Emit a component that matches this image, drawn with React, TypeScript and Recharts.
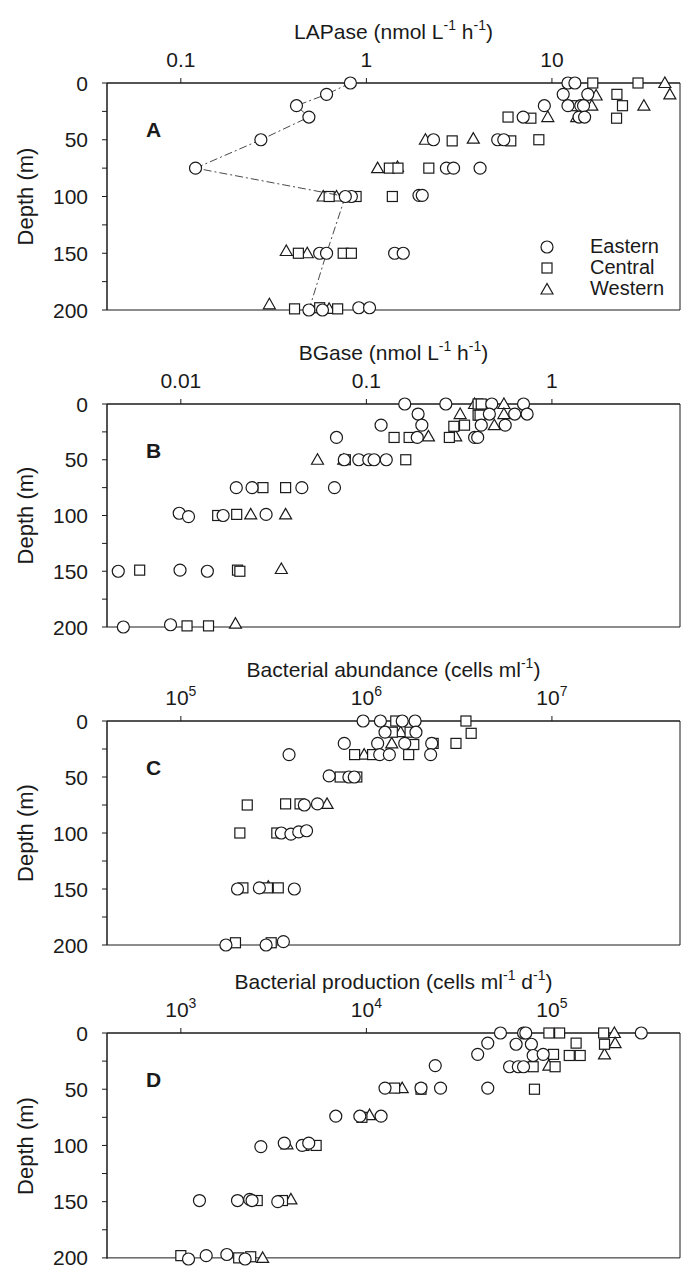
import React from "react";
import { ScatterChart, Scatter, XAxis, YAxis, ReferenceArea, Legend } from "recharts";

const FONT = '"Liberation Sans", Arial, Helvetica, sans-serif';
const INK = "#1a1a1a";

const stations = ["Eastern", "Central", "Western"];
const depthTicks = [0, 25, 50, 75, 100, 125, 150, 175, 200];

// A: LAPase (nmol L-1 h-1), [value, depth]
const lapProfile = [[0.82, 0], [0.61, 10], [0.42, 20], [0.49, 30], [0.27, 50], [0.12, 75], [0.77, 100], [0.61, 150], [0.49, 200]];
const lapEastern = [
  [12.2, 0], [13.3, 0], [11.5, 10], [15.6, 10], [9.1, 20], [12.2, 20], [14.3, 20], [14.8, 20],
  [7.0, 30], [14.0, 30], [15.0, 30], [2.3, 50], [5.1, 50], [5.5, 50], [2.7, 75], [2.95, 75], [4.1, 75],
  [0.83, 100], [1.92, 99], [2.0, 99], [0.56, 150], [1.42, 150], [1.58, 150], [0.58, 200], [0.91, 198], [1.04, 198],
];
const lapCentral = [
  [16.6, 0], [29.1, 0], [22.4, 10], [13.3, 20], [24.0, 20], [5.8, 30], [7.7, 31], [22.3, 31],
  [2.9, 51], [6.0, 51], [8.5, 50], [1.33, 75], [1.48, 75], [2.17, 75], [0.63, 100], [0.88, 100], [1.38, 100],
  [0.43, 150], [0.75, 150], [0.83, 150], [0.41, 199], [0.56, 198], [0.70, 199],
];
const lapWestern = [
  [40.6, 0], [17.3, 11], [43.2, 10], [16.4, 20], [31.3, 20], [9.5, 30], [13.6, 30],
  [2.08, 50], [3.77, 49], [1.15, 75], [1.47, 74], [0.585, 100], [0.69, 100], [0.37, 148], [0.48, 150], [0.30, 195], [0.63, 199],
];

// B: BGase (nmol L-1 h-1)
const bgEastern = [
  [0.161, 0], [0.268, 0], [0.474, 0], [0.703, 0], [0.19, 9], [0.46, 9], [0.63, 9], [0.735, 9],
  [0.12, 19], [0.199, 19], [0.416, 19], [0.56, 19], [0.069, 30], [0.188, 30], [0.383, 30], [0.398, 30],
  [0.076, 50], [0.091, 50], [0.103, 50], [0.110, 50], [0.128, 50], [0.0199, 75], [0.0242, 75], [0.0449, 75], [0.0673, 75],
  [0.0098, 98], [0.011, 101], [0.0169, 100], [0.0288, 99], [0.0046, 150], [0.0099, 149], [0.0139, 150],
  [0.0049, 200], [0.0088, 198],
];
const bgCentral = [
  [0.40, 0], [0.416, 0], [0.40, 10], [0.41, 10], [0.296, 20], [0.338, 19], [0.141, 30], [0.17, 30], [0.28, 30],
  [0.077, 50], [0.163, 50], [0.0277, 75], [0.0367, 75], [0.0158, 100], [0.020, 99], [0.006, 149], [0.0202, 149], [0.0208, 150],
  [0.0108, 199], [0.0141, 199],
];
const bgWestern = [
  [0.383, 0], [0.551, 0], [0.32, 9], [0.551, 9], [0.489, 19], [0.216, 29], [0.303, 29],
  [0.0545, 50], [0.0755, 50], [0.0238, 99], [0.0367, 99], [0.0348, 148], [0.0197, 197],
];

// C: Bacterial abundance (cells ml-1)
const baEastern = [
  [9.6e5, 0], [1.19e6, 0], [1.56e6, 0], [1.83e6, 0], [1.26e6, 10], [1.85e6, 10],
  [7.6e5, 20], [1.15e6, 20], [1.61e6, 20], [2.25e6, 20], [3.83e5, 30], [1.18e6, 30], [1.33e6, 30], [2.22e6, 30],
  [6.3e5, 49], [8.05e5, 50], [8.6e5, 50], [4.63e5, 75], [5.45e5, 74],
  [3.48e5, 100], [3.92e5, 101], [4.32e5, 99], [4.76e5, 98], [2.02e5, 150], [2.65e5, 149], [4.09e5, 150],
  [1.75e5, 200], [2.88e5, 200], [3.57e5, 197],
];
const baCentral = [
  [1.44e6, 0], [3.44e6, 0], [1.38e6, 10], [1.72e6, 10], [3.67e6, 11], [1.8e6, 21], [2.29e6, 20], [3.04e6, 20],
  [8.64e5, 30], [1.08e6, 30], [1.69e6, 30], [7.22e5, 50], [8.88e5, 50], [2.28e5, 75], [3.67e5, 74], [4.39e5, 74],
  [2.08e5, 100], [3.29e5, 100], [2.16e5, 149], [2.93e5, 149], [3.35e5, 149], [1.97e5, 198], [3.07e5, 198],
];
const baWestern = [[1.53e6, 10], [1.37e6, 20], [9.73e5, 30], [6.14e5, 74], [2.96e5, 148]];

// D: Bacterial production (cells ml-1 d-1)
const bpEastern = [
  [5.28e4, 0], [7.03e4, 0], [7.23e4, 0], [3.03e5, 0], [4.51e4, 9], [6.41e4, 10], [7.75e4, 10],
  [3.98e4, 19], [7.92e4, 20], [8.97e4, 19], [2.35e4, 29], [5.91e4, 30], [6.59e4, 30], [7.03e4, 30],
  [1.26e4, 49], [1.97e4, 49], [2.51e4, 49], [4.51e4, 49], [6.84e3, 74], [9.22e3, 74], [1.2e4, 74],
  [2.7e3, 101], [3.61e3, 98], [4.51e3, 100], [4.89e3, 98], [1.26e3, 149], [2.02e3, 149], [2.35e3, 148], [2.42e3, 149], [3.33e3, 150],
  [1.1e3, 201], [1.37e3, 198], [1.77e3, 197], [2.22e3, 201],
];
const bpCentral = [
  [9.63e4, 0], [1.1e5, 0], [1.9e5, 0], [1.35e5, 9], [1.92e5, 10], [1.02e5, 19], [1.24e5, 20], [1.42e5, 20],
  [7.92e4, 30], [1.04e5, 30], [1.42e4, 49], [1.97e4, 50], [8.05e4, 50], [9.46e3, 75], [4.61e3, 100], [5.36e3, 100],
  [2.58e3, 149], [3.53e3, 149], [1.0e3, 198], [2.05e3, 200], [2.38e3, 199],
];
const bpWestern = [[2.17e5, 0], [2.19e5, 9], [1.92e5, 19], [9.63e4, 29], [1.56e4, 49], [1.04e4, 73], [3.73e3, 99], [3.92e3, 148], [2.76e3, 200]];

const toPts = (arr: number[][]) => arr.map(([v, d]) => ({ v, d }));

type Part = [string, boolean?];

const panels = [
  {
    letter: "A", top: 8, plotH: 227,
    title: [["LAPase (nmol L"], ["-1", true], [" h"], ["-1", true], [")"]] as Part[],
    ticks: [0.1, 1, 10], tickLabels: [["0.1"], ["1"], ["10"]],
    domain: [0.04, 49],
    eastern: lapEastern, central: lapCentral, western: lapWestern, profile: lapProfile, legend: true,
  },
  {
    letter: "B", top: 329, plotH: 223,
    title: [["BGase (nmol L"], ["-1", true], [" h"], ["-1", true], [")"]] as Part[],
    ticks: [0.01, 0.1, 1], tickLabels: [["0.01"], ["0.1"], ["1"]],
    domain: [0.004, 4.9],
    eastern: bgEastern, central: bgCentral, western: bgWestern,
  },
  {
    letter: "C", top: 646, plotH: 224,
    title: [["Bacterial abundance (cells ml"], ["-1", true], [")"]] as Part[],
    ticks: [1e5, 1e6, 1e7], tickLabels: [["10", "5"], ["10", "6"], ["10", "7"]],
    domain: [4e4, 4.9e7],
    eastern: baEastern, central: baCentral, western: baWestern,
  },
  {
    letter: "D", top: 958, plotH: 226,
    title: [["Bacterial production (cells ml"], ["-1", true], [" d"], ["-1", true], [")"]] as Part[],
    ticks: [1e3, 1e4, 1e5], tickLabels: [["10", "3"], ["10", "4"], ["10", "5"]],
    domain: [400, 4.9e5],
    eastern: bpEastern, central: bpCentral, western: bpWestern,
  },
];

const HEAD = 75;
const FOOT = 12;

const CircleShape = (p: any) => <circle cx={p.cx} cy={p.cy} r={6} fill="#fff" stroke={INK} strokeWidth={1.2} />;
const SquareShape = (p: any) => <rect x={p.cx - 5} y={p.cy - 5} width={10} height={10} fill="#fff" stroke={INK} strokeWidth={1.2} />;
const TriShape = (p: any) => (
  <polygon points={`${p.cx},${p.cy - 6} ${p.cx - 6},${p.cy + 4.5} ${p.cx + 6},${p.cy + 4.5}`} fill="#fff" stroke={INK} strokeWidth={1.2} />
);

const LegendIcon = ({ i }: { i: number }) => (
  <svg width={14} height={14} style={{ display: "block" }}>
    {i === 0 && <circle cx={7} cy={7} r={6} fill="#fff" stroke={INK} strokeWidth={1.2} />}
    {i === 1 && <rect x={2} y={2} width={10} height={10} fill="#fff" stroke={INK} strokeWidth={1.2} />}
    {i === 2 && <polygon points="7,1.5 1,12 13,12" fill="#fff" stroke={INK} strokeWidth={1.2} />}
  </svg>
);

const LegendBox = () => (
  <div style={{ fontFamily: FONT, fontSize: 20, color: INK }}>
    {stations.map((s, i) => (
      <div key={s} style={{ display: "flex", alignItems: "center", height: 21 }}>
        <LegendIcon i={i} />
        <span style={{ marginLeft: 36, lineHeight: "21px" }}>{s}</span>
      </div>
    ))}
  </div>
);

function Panel({ cfg }: { cfg: (typeof panels)[number] }) {
  const chartH = HEAD + cfg.plotH + FOOT;

  const xTick = (props: any) => {
    const { x, y, payload } = props;
    const idx = cfg.ticks.findIndex((t) => Math.abs(Math.log10(t) - Math.log10(payload.value)) < 1e-6);
    const lab = cfg.tickLabels[idx] || [""];
    return (
      <text x={x} y={y - 9} textAnchor="middle" fontSize={21} fontFamily={FONT} fill={INK}>
        {lab[0]}
        {lab[1] ? <tspan dy={-9} fontSize={14}>{lab[1]}</tspan> : null}
      </text>
    );
  };

  const yTick = (props: any) => {
    const { x, y, payload } = props;
    if (payload.value % 50 !== 0) return <g />;
    return (
      <text x={x - 12} y={y} dy="0.36em" textAnchor="end" fontSize={21} fontFamily={FONT} fill={INK}>
        {payload.value}
      </text>
    );
  };

  const titleLabel = () => {
    let prevSup = false;
    return (
      <g>
        <text x={393.5} y={HEAD - 44} textAnchor="middle" fontSize={21} fontFamily={FONT} fill={INK}>
          {cfg.title.map(([t, sup], i) => {
            const dy = sup ? -9 : prevSup ? 9 : 0;
            prevSup = !!sup;
            return (
              <tspan key={i} dy={dy} fontSize={sup ? 14 : 21}>{t}</tspan>
            );
          })}
        </text>
        <text x={146} y={HEAD + 54} fontSize={21} fontWeight="bold" fontFamily={FONT} fill={INK}>
          {cfg.letter}
        </text>
      </g>
    );
  };

  const depthLabel = () => {
    const cy = HEAD + cfg.plotH / 2;
    return (
      <text x={25} y={cy} transform={`rotate(-90 25 ${cy})`} textAnchor="middle" dy="0.36em" fontSize={22} fontFamily={FONT} fill={INK}>
        Depth (m)
      </text>
    );
  };

  return (
    <div style={{ position: "absolute", left: 0, top: cfg.top }}>
      <ScatterChart width={683} height={chartH} margin={{ top: 45, right: 3, bottom: FOOT, left: 0 }}>
        <YAxis
          type="number" dataKey="d" domain={[0, 200]} reversed ticks={depthTicks} interval={0}
          width={107} tick={yTick} tickSize={5} stroke={INK} axisLine={{ stroke: INK }} tickLine={{ stroke: INK }}
          label={depthLabel}
        />
        <XAxis
          type="number" dataKey="v" orientation="top" scale="log" domain={cfg.domain} ticks={cfg.ticks} interval={0}
          height={30} tick={xTick} tickSize={5} stroke={INK} axisLine={{ stroke: INK }} tickLine={{ stroke: INK }}
          label={titleLabel}
        />
        <ReferenceArea x1={cfg.domain[0]} x2={cfg.domain[1]} y1={0} y2={200} fill="none" stroke={INK} strokeWidth={1} ifOverflow="visible" />
        <Scatter data={toPts(cfg.western)} shape={TriShape} isAnimationActive={false} legendType="none" />
        <Scatter data={toPts(cfg.central)} shape={SquareShape} isAnimationActive={false} legendType="none" />
        <Scatter data={toPts(cfg.eastern)} shape={CircleShape} isAnimationActive={false} legendType="none" />
        {cfg.profile ? (
          <Scatter
            data={toPts(cfg.profile)} shape={CircleShape} isAnimationActive={false} legendType="none"
            line={{ stroke: "#333", strokeWidth: 0.9, strokeDasharray: "8 3 2 3" }} lineType="joint"
          />
        ) : null}
        {cfg.legend ? (
          <Legend
            layout="vertical" align="center" verticalAlign="middle"
            wrapperStyle={{ left: 540, top: 228, width: 143 }}
            content={() => <LegendBox />}
          />
        ) : null}
      </ScatterChart>
    </div>
  );
}

export default function App() {
  return (
    <div style={{ position: "absolute", left: 0, top: 0, width: 683, height: 1270, overflow: "hidden", background: "#fff" }}>
      {panels.map((p) => (
        <Panel key={p.letter} cfg={p} />
      ))}
    </div>
  );
}
